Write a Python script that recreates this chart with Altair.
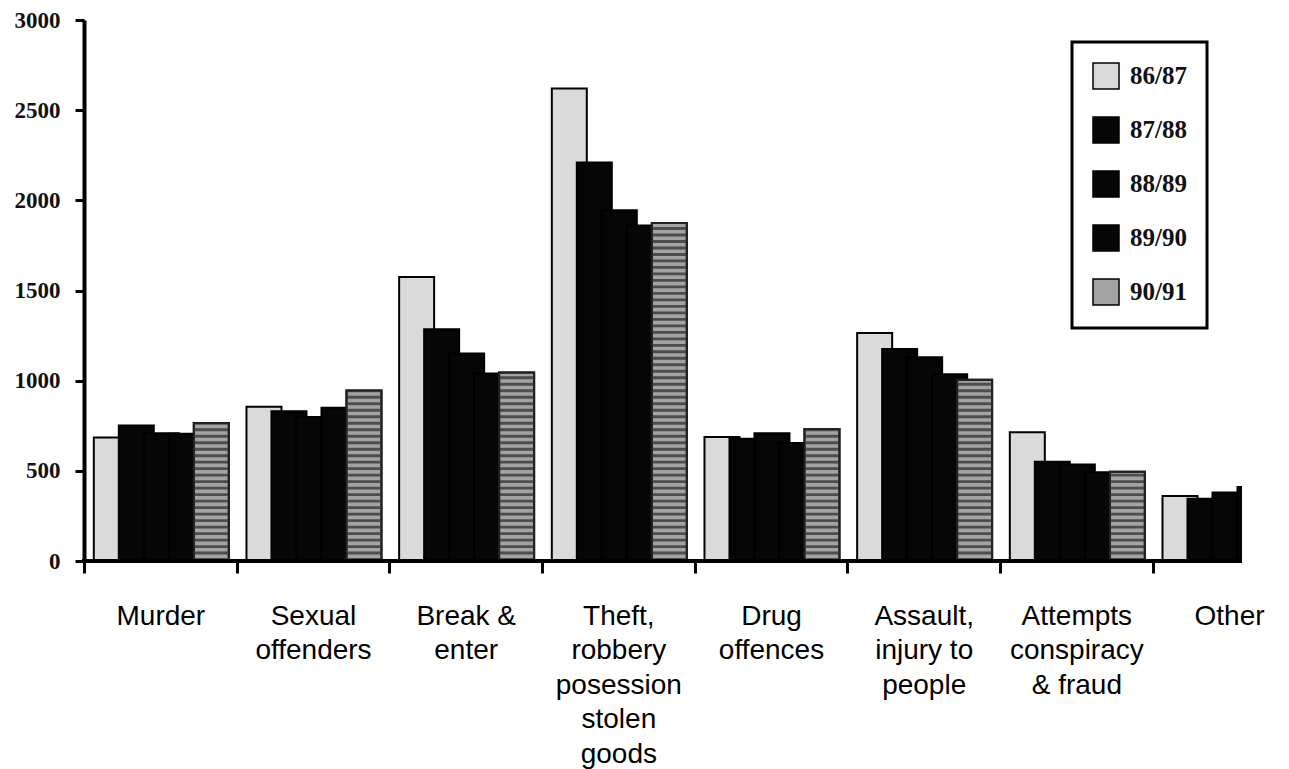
import json
import altair as alt
import pandas as pd

# ---- data ----
categories = [
    "Murder",
    "Sexual\noffenders",
    "Break &\nenter",
    "Theft,\nrobbery\nposession\nstolen\ngoods",
    "Drug\noffences",
    "Assault,\ninjury to\npeople",
    "Attempts\nconspiracy\n& fraud",
    "Other",
]
series = ["86/87", "87/88", "88/89", "89/90", "90/91"]
v_86_87 = [685, 855, 1575, 2620, 688, 1265, 714, 360]
v_87_88 = [752, 830, 1285, 2210, 678, 1175, 551, 345]
v_88_89 = [708, 798, 1150, 1945, 708, 1130, 535, 380]
v_89_90 = [705, 850, 1040, 1860, 655, 1035, 492, 410]
v_90_91 = [765, 945, 1045, 1875, 732, 1005, 495, None]  # last one is cut off in the source
y_ticks = [0, 500, 1000, 1500, 2000, 2500, 3000]

fills = ["#dadada", "#060606", "#060606", "#060606", "#a3a3a3"]

values = [v_86_87, v_87_88, v_88_89, v_89_90, v_90_91]
rows = []
for i, cat in enumerate(categories):
    for s, vals in zip(series, values):
        rows.append({"category": cat, "series": s, "value": vals[i]})
df = pd.DataFrame(rows)

W, H = 1158, 541
STEP = 152.67
BAR_W = 35

x_enc = alt.X(
    "category:N",
    sort=categories,
    scale=alt.Scale(domain=categories, range=[0, STEP * len(categories)],
                    paddingInner=0, paddingOuter=0),
    axis=alt.Axis(
        title=None, labelAngle=0, labelExpr="split(datum.label, '\\n')",
        tickBand="extent", domain=False, ticks=True, tickSize=12, tickWidth=3,
        tickColor="black", labelFont="Liberation Sans", labelFontSize=28,
        labelLineHeight=34.5, labelPadding=29, labelColor="black",
        labelOverlap=False, labelLimit=400,
    ),
)
# series position inside each group (index of the series), bars overlapping
xoff_enc = alt.XOffset("k:Q", scale=alt.Scale(domain=[0, len(series) - 1], range=[27.3, 127.3]))

y_axis = alt.Axis(
    values=y_ticks, format="d", title=None, grid=False, domainWidth=4, domainColor="black",
    tickSize=9, tickWidth=3, tickColor="black", labelFont="Liberation Serif",
    labelFontWeight="bold", labelFontSize=23, labelPadding=15, labelColor="#111",
    zindex=1,
)
y_scale = alt.Scale(domain=[0, 3000], nice=False)

base = alt.Chart(df).transform_calculate(
    k="indexof(" + json.dumps(series) + ", datum.series)"
).encode(x=x_enc, xOffset=xoff_enc)

bars = base.mark_bar(
    width=BAR_W, stroke="black", strokeWidth=2, clip=True
).encode(
    y=alt.Y("value:Q", scale=y_scale, axis=y_axis),
    fill=alt.Fill(
        "series:N", sort=series,
        scale=alt.Scale(domain=series, range=fills),
        legend=alt.Legend(
            title=None, orient="none", legendX=988, legendY=22,
            symbolType="square", symbolSize=676, symbolStrokeColor="black",
            symbolStrokeWidth=1.5, symbolOpacity=1,
            labelFont="Liberation Serif", labelFontWeight="bold", labelFontSize=25,
            labelColor="#111", rowPadding=22, labelOffset=10, padding=20,
            strokeColor="black", fillColor="white",
        ),
    ),
)

stripes = base.transform_filter(
    (alt.datum.series == "90/91") & "isValid(datum.value)"
).transform_calculate(
    s="sequence(0, datum.value, 36)"
).transform_flatten(["s"]).transform_calculate(
    s2="min(datum.s + 16, datum.value)"
).mark_bar(width=BAR_W, color="#4d4d4d", clip=True).encode(
    y=alt.Y("s:Q", scale=y_scale, axis=y_axis), y2="s2:Q"
)

outline = base.transform_filter(
    (alt.datum.series == "90/91") & "isValid(datum.value)"
).mark_bar(
    width=BAR_W, fillOpacity=0, stroke="#222", strokeWidth=2, clip=True
).encode(y=alt.Y("value:Q", scale=y_scale, axis=y_axis))

axis_line = alt.Chart(pd.DataFrame({"zero": [0]})).mark_rule(
    color="black", strokeWidth=4
).encode(y=alt.Y("zero:Q", scale=y_scale, axis=y_axis), x=alt.value(-2), x2=alt.value(W))

chart = alt.layer(bars, stripes, outline, axis_line).properties(
    width=W, height=H,
    autosize=alt.AutoSizeParams(type="none"),
    padding={"left": 76, "top": 12, "right": 30, "bottom": 208},
).configure_view(stroke=None).configure_legend(strokeWidth=3)

chart.save("out.html", embed_options={"renderer": "svg", "actions": False})
